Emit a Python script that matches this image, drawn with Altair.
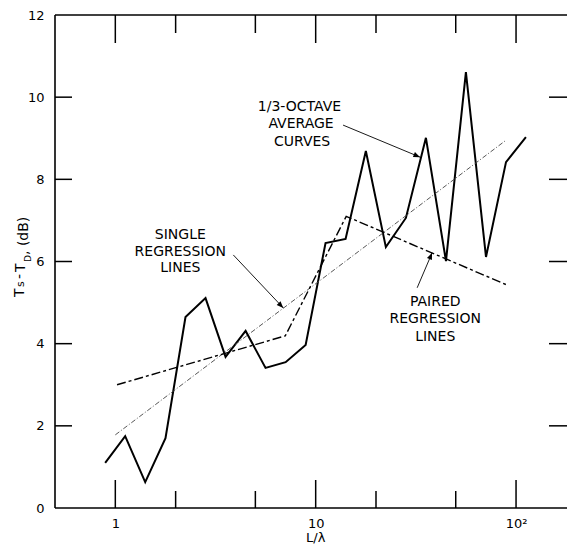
import altair as alt
import pandas as pd

# ---------------- data ----------------
octave_x = [0.89, 1.12, 1.41, 1.78, 2.24, 2.82, 3.55, 4.47, 5.62, 7.08, 8.91,
            11.2, 14.1, 17.8, 22.4, 28.2, 35.5, 44.7, 56.2, 70.8, 89.1, 112.0]
octave_y = [1.10, 1.75, 0.63, 1.70, 4.65, 5.11, 3.68, 4.31, 3.41, 3.55, 3.97,
            6.45, 6.55, 8.69, 6.35, 7.06, 9.01, 6.01, 10.61, 6.11, 8.42, 9.03]

single_x = [1.0, 89.0]
single_y = [1.78, 8.95]

paired_x = [1.02, 7.05, 14.2, 90.0]
paired_y = [3.0, 4.19, 7.1, 5.43]

x_label_ticks = [1, 10, 100]
x_minor_ticks = [2, 5, 20, 50]
y_label_ticks = [0, 2, 4, 6, 8, 10, 12]
y_inner_ticks = [2, 4, 6, 8, 10]

x_title = "L/λ"
x_title_at = [10]

note_text = ["1/3-OCTAVE", "AVERAGE", "CURVES",
             "SINGLE", "REGRESSION", "LINES",
             "PAIRED", "REGRESSION", "LINES"]
note_x = [8.3, 8.45, 8.55, 2.11, 2.11, 2.11, 39.5, 39.5, 39.5]
note_y = [9.76, 9.35, 8.91, 6.65, 6.23, 5.84, 5.01, 4.60, 4.16]

arrow_x = [13.7, 3.88, 32.1]
arrow_y = [9.32, 6.16, 5.36]
arrow_x2 = [33.2, 6.89, 38.1]
arrow_y2 = [8.54, 4.87, 6.21]
arrow_angle = [22.6, 46.1, 293.2]

# ---------------- layout / style ----------------
W, H = 512, 493
FONT = "DejaVu Sans"
XDOM = [0.5, 179.6]
YDOM = [0, 12]

xscale = alt.Scale(type="log", domain=XDOM, nice=False)
yscale = alt.Scale(domain=YDOM, nice=False)

df_oct = pd.DataFrame({"x": octave_x, "y": octave_y})
df_single = pd.DataFrame({"x": single_x, "y": single_y})
df_paired = pd.DataFrame({"x": paired_x, "y": paired_y})
df_notes = pd.DataFrame({"t": note_text, "x": note_x, "y": note_y})
df_arrows = pd.DataFrame({"x": arrow_x, "y": arrow_y, "x2": arrow_x2,
                          "y2": arrow_y2, "ang": arrow_angle})
df_xt = pd.DataFrame({"t": [x_title], "x": x_title_at})


def X(field):
    return alt.X(field, scale=xscale, title="")


def Y(field):
    return alt.Y(field, scale=yscale, title="")


main = alt.Chart(df_oct).mark_line(color="black", strokeWidth=2).encode(
    x=alt.X("x:Q", scale=xscale, title="",
            axis=alt.Axis(values=x_label_ticks,
                          labelExpr="datum.value == 100 ? '10²' : datum.label",
                          labelPadding=9)),
    y=alt.Y("y:Q", scale=yscale, title="",
            axis=alt.Axis(values=y_label_ticks, labelPadding=11)),
)

single = alt.Chart(df_single).mark_line(
    color="#444444", strokeWidth=0.9, strokeDash=[5, 2, 1, 2]
).encode(x=X("x:Q"), y=Y("y:Q"))

paired = alt.Chart(df_paired).mark_line(
    color="black", strokeWidth=1.4, strokeDash=[9, 3, 3, 3]
).encode(x=X("x:Q"), y=Y("y:Q"))

notes = alt.Chart(df_notes).mark_text(
    font=FONT, fontSize=14, align="center", baseline="middle", color="black"
).encode(x=X("x:Q"), y=Y("y:Q"), text="t:N")

xtitle = alt.Chart(df_xt).mark_text(
    font=FONT, fontSize=13, align="center", baseline="alphabetic", color="black"
).encode(x=X("x:Q"), y=alt.value(H + 34), text="t:N")

arrow_lines = alt.Chart(df_arrows).mark_rule(color="black", strokeWidth=0.9).encode(
    x=X("x:Q"), y=Y("y:Q"), x2="x2:Q", y2="y2:Q",
)

arrow_heads = alt.Chart(df_arrows).mark_point(
    shape="M 0 0 L -1 -0.4 L -1 0.4 Z", filled=True, color="black",
    size=180, opacity=1
).encode(
    x=X("x2:Q"), y=Y("y2:Q"),
    angle=alt.Angle("ang:Q", scale=None),
)

df_xmaj = pd.DataFrame({"v": x_label_ticks})
df_xmin = pd.DataFrame({"v": x_minor_ticks})
df_yin = pd.DataFrame({"v": y_inner_ticks})
df_one = pd.DataFrame({"k": [0]})


def xtick(df, y0, y1):
    return alt.Chart(df).mark_rule(color="black", strokeWidth=1.5).encode(
        x=X("v:Q"), y=alt.value(y0), y2=alt.value(y1),
    )


def ytick(df, x0, x1):
    return alt.Chart(df).mark_rule(color="black", strokeWidth=1.5).encode(
        y=Y("v:Q"), x=alt.value(x0), x2=alt.value(x1),
    )


ticks = [
    xtick(df_xmaj, 0, 28), xtick(df_xmin, 0, 18),
    xtick(df_xmaj, H, H - 28), xtick(df_xmin, H, H - 17),
    ytick(df_yin, 0, 17), ytick(df_yin, W - 18, W),
]

frame = [
    alt.Chart(df_one).mark_rule(color="black", strokeWidth=1.6).encode(
        x=alt.value(0), x2=alt.value(W), y=alt.value(0)),
    alt.Chart(df_one).mark_rule(color="black", strokeWidth=1.6).encode(
        x=alt.value(0), x2=alt.value(W), y=alt.value(H)),
    alt.Chart(df_one).mark_rule(color="black", strokeWidth=1.6).encode(
        x=alt.value(0), y=alt.value(0), y2=alt.value(H)),
]


def ypiece(txt, px, py, size):
    return alt.Chart(pd.DataFrame({"t": [txt]})).mark_text(
        angle=270, align="left", baseline="alphabetic", font=FONT,
        fontSize=size, color="black"
    ).encode(text="t:N", x=alt.value(px), y=alt.value(py))


ytitle = [
    ypiece("T", -31, 282, 14),
    ypiece("s", -31, 272, 11),
    ypiece("-", -31, 264, 14),
    ypiece("T", -30, 257, 14),
    ypiece("D", -24, 247, 9),
    ypiece(", (dB)", -27, 240, 14),
]

chart = alt.layer(main, single, paired, notes, xtitle, arrow_lines, arrow_heads,
                  *ticks, *frame, *ytitle).properties(
    width=W, height=H,
    autosize=alt.AutoSizeParams(type="none"),
    padding={"left": 47, "top": 7, "right": 0, "bottom": 37},
    background="white",
).configure_view(
    strokeWidth=0
).configure_axis(
    labelFont=FONT, labelFontSize=13, labelColor="black",
    ticks=False, domain=False, grid=False,
)

chart.save("out.html", embed_options={"renderer": "svg", "actions": False})
